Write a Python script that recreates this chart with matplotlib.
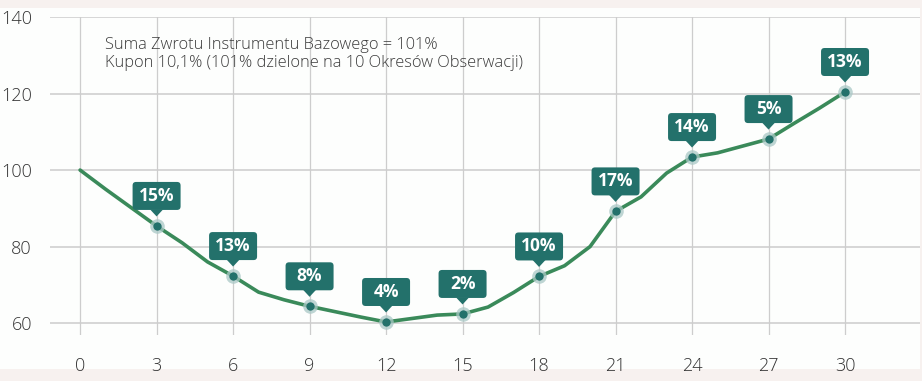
import matplotlib.pyplot as plt
import matplotlib.transforms as mtransforms
from matplotlib.patches import FancyBboxPatch, Polygon, Rectangle

# path of the underlying, one point per period
months = list(range(31))
values = [100, 95, 90.2, 85.4, 81, 76, 72.3, 68.1, 66.1, 64.4, 63, 61.6,
          60.3, 61.2, 62.1, 62.4, 64.2, 68, 72.2, 75, 80, 89.2, 93, 99.2,
          103.4, 104.5, 106.3, 108.1, 112.2, 116.2, 120.4]

# observation dates and coupon labels
obs_x = [3, 6, 9, 12, 15, 18, 21, 24, 27, 30]
obs_labels = ["15%", "13%", "8%", "4%", "2%", "10%", "17%", "14%", "5%", "13%"]

xticks = [0, 3, 6, 9, 12, 15, 18, 21, 24, 27, 30]
yticks = [60, 80, 100, 120, 140]

note_lines = ["Suma Zwrotu Instrumentu Bazowego = 101%",
              "Kupon 10,1% (101% dzielone na 10 Okresów Obserwacji)"]

line_col = "#3a8a5a"
box_col = "#23716b"
plt.rcParams['font.family'] = ['Open Sans', 'DejaVu Sans']

fig = plt.figure(figsize=(9.22, 3.81), dpi=100)
fig.patch.set_facecolor("#f7f1ef")
fig.patches.append(Rectangle((0, 12 / 381), 920 / 922, 361 / 381, transform=fig.transFigure,
                             facecolor="#fdfefd", edgecolor="none", zorder=-5))

ax = fig.add_axes([50 / 922, 46 / 381, 870 / 922, 318 / 381])
ax.set_facecolor("none")
ax.set_xlim(-1.18, 32.94)
ax.set_ylim(56.9, 140)

for s in ax.spines.values():
    s.set_visible(False)
for y in yticks:
    ax.axhline(y, color="#d6d6d6", lw=1.4, zorder=1)
for x in xticks:
    ax.axvline(x, color="#cdcdcd", lw=0.9, zorder=1)

ax.set_xticks(xticks)
ax.set_yticks(yticks)
ax.tick_params(length=0, labelsize=13, labelcolor="#333333")
ax.tick_params(axis="x", pad=16)
ax.tick_params(axis="y", pad=13)
for lab in ax.get_xticklabels() + ax.get_yticklabels():
    lab.set_fontweight("light")

ax.plot(months, values, color=line_col, lw=2.6, zorder=3, solid_capstyle="round")

obs_y = [values[months.index(x)] for x in obs_x]
ax.plot(obs_x, obs_y, "o", ms=10.5, color="#a9c8c6", alpha=0.75, mec="none", zorder=4)
ax.plot(obs_x, obs_y, "o", ms=6, color=box_col, mec="none", zorder=5)

# callout boxes, sized in inches relative to each point
for x, y, lab in zip(obs_x, obs_y, obs_labels):
    tr = fig.dpi_scale_trans + mtransforms.ScaledTranslation(x, y, ax.transData)
    box = FancyBboxPatch((-0.24, 0.16), 0.48, 0.28,
                         boxstyle="round,pad=0,rounding_size=0.035",
                         facecolor=box_col, edgecolor="none", transform=tr,
                         zorder=6, clip_on=False)
    ax.add_patch(box)
    tri = Polygon([(-0.065, 0.165), (0.065, 0.165), (0, 0.095)], closed=True,
                  facecolor=box_col, edgecolor="none", transform=tr, zorder=6,
                  clip_on=False)
    ax.add_patch(tri)
    ax.text(0, 0.30, lab, transform=tr, ha="center", va="center",
            color="white", fontsize=12.5, fontweight="bold", zorder=7)

for i, t in enumerate(note_lines):
    fig.text(105 / 922, 1 - (45 + 18 * i) / 381, t, ha="left", va="center",
             fontsize=11.8, color="#3a3a3a", fontweight="light")

fig.savefig("out.png", dpi=100, facecolor=fig.get_facecolor())
